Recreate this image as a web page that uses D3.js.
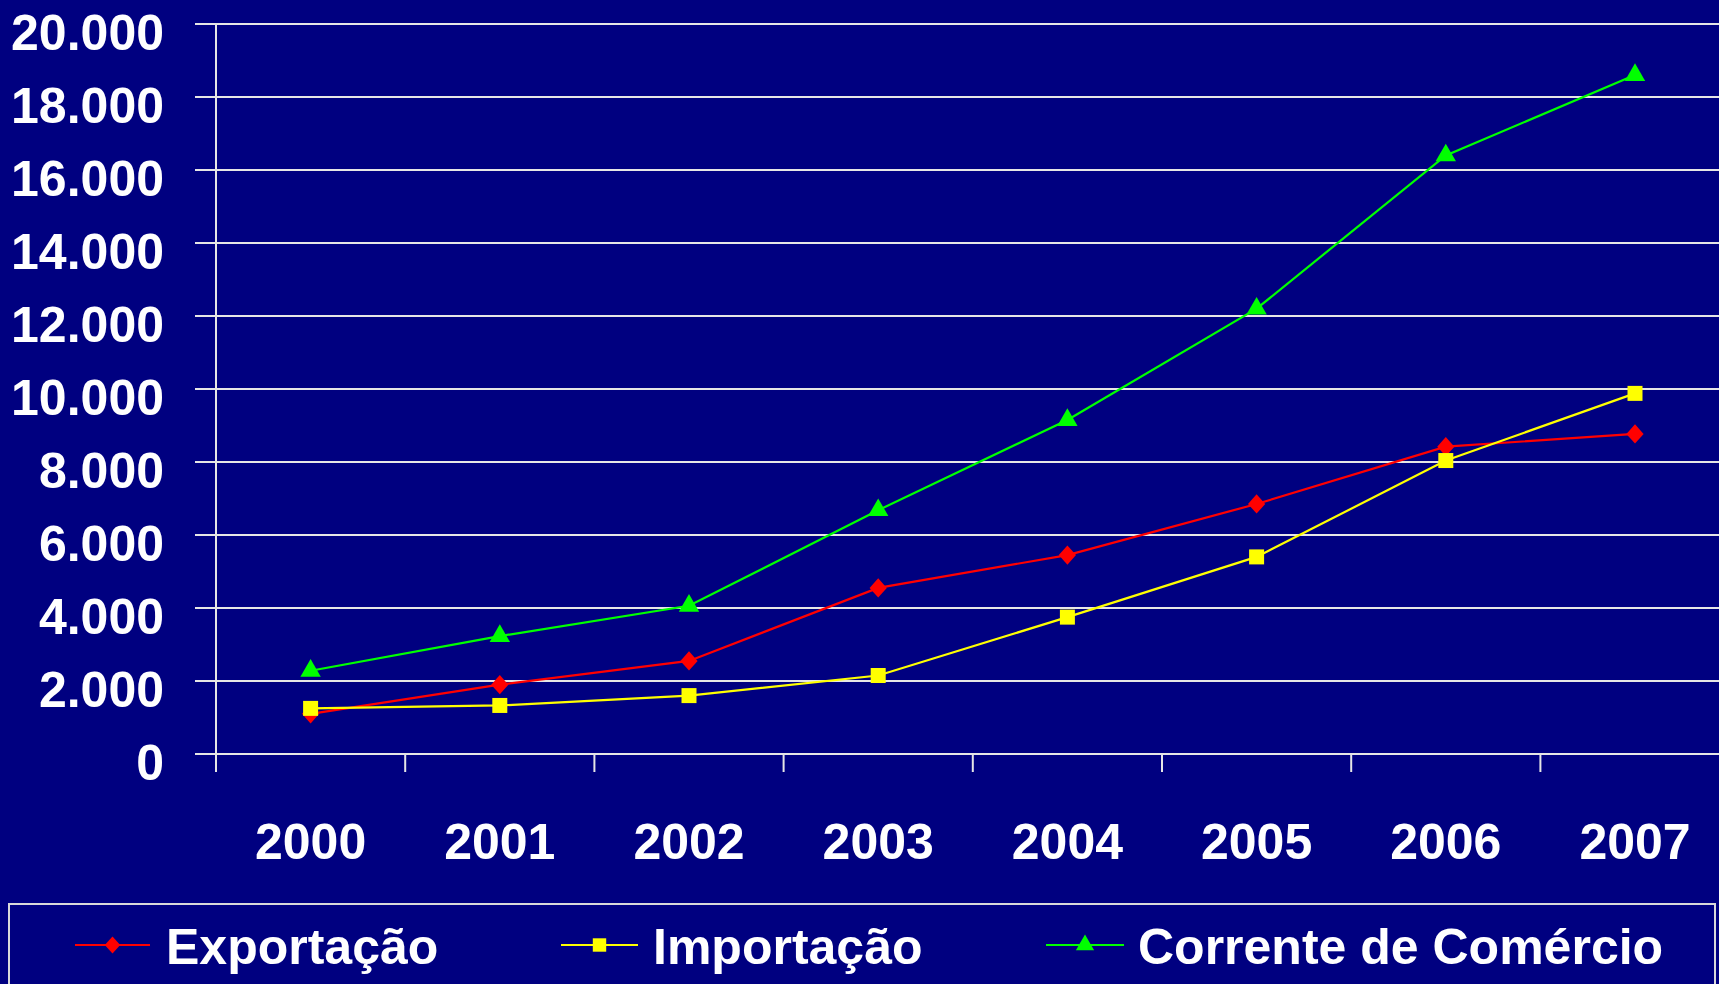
<!DOCTYPE html>
<html>
<head>
<meta charset="utf-8">
<script src="https://cdn.jsdelivr.net/npm/d3@7/dist/d3.min.js"></script>
<style>
  html, body { margin: 0; padding: 0; background: #000080; overflow: hidden; }
  svg { display: block; }
  text { font-family: "Liberation Sans", Arial, sans-serif; font-weight: bold; fill: #ffffff; }
</style>
</head>
<body>
<svg id="chart" width="1719" height="984"></svg>
<script>
const categories = ["2000", "2001", "2002", "2003", "2004", "2005", "2006", "2007"];
const exportacao = [1100, 1900, 2550, 4550, 5450, 6850, 8420, 8770];
const importacao = [1250, 1330, 1600, 2150, 3750, 5400, 8040, 9880];
const corrente   = [2280, 3230, 4060, 6680, 9150, 12200, 16400, 18600];
const yTicks = [0, 2000, 4000, 6000, 8000, 10000, 12000, 14000, 16000, 18000, 20000];
const yTickLabels = ["0", "2.000", "4.000", "6.000", "8.000", "10.000", "12.000", "14.000", "16.000", "18.000", "20.000"];
const seriesNames = ["Exportação", "Importação", "Corrente de Comércio"];
const seriesColors = ["#ff0000", "#ffff00", "#00ff00"];

const diamondShape = {
  draw(ctx, size) {
    const w = Math.sqrt(size) * 0.68, h = Math.sqrt(size) * 0.76;
    ctx.moveTo(0, -h); ctx.lineTo(w, 0); ctx.lineTo(0, h); ctx.lineTo(-w, 0); ctx.closePath();
  }
};
const seriesShapes = [diamondShape, d3.symbolSquare, d3.symbolTriangle];
const seriesSizes = [160, 225, 180];

const svg = d3.select("#chart");
const plotLeft = 216, plotTop = 24, plotBottom = 754;
const bandW = 189.2;

const x = d3.scaleBand().domain(categories).range([plotLeft, plotLeft + bandW * categories.length]).paddingInner(0).paddingOuter(0);
const y = d3.scaleLinear().domain([0, 20000]).range([plotBottom, plotTop]);

// gridlines
svg.append("g").selectAll("line").data(yTicks).join("line")
  .attr("x1", 195).attr("x2", 1730)
  .attr("y1", d => y(d)).attr("y2", d => y(d))
  .attr("stroke", "#e6e6e6").attr("stroke-width", 2);

// y axis line
svg.append("line").attr("x1", plotLeft).attr("x2", plotLeft)
  .attr("y1", plotTop).attr("y2", plotBottom + 18)
  .attr("stroke", "#e6e6e6").attr("stroke-width", 2);

// x ticks at band boundaries
svg.append("g").selectAll("line").data(categories).join("line")
  .attr("x1", d => x(d)).attr("x2", d => x(d))
  .attr("y1", plotBottom).attr("y2", plotBottom + 18)
  .attr("stroke", "#e6e6e6").attr("stroke-width", 2);

// y labels
svg.append("g").selectAll("text").data(yTicks).join("text")
  .attr("x", 164).attr("y", d => y(d) + 26)
  .attr("text-anchor", "end").attr("font-size", 50)
  .text((d, i) => yTickLabels[i]);

// x labels
svg.append("g").selectAll("text").data(categories).join("text")
  .attr("x", d => x(d) + x.bandwidth() / 2).attr("y", 859)
  .attr("text-anchor", "middle").attr("font-size", 50)
  .text(d => d);

const allSeries = [exportacao, importacao, corrente];
const line = d3.line().x((d, i) => x(categories[i]) + x.bandwidth() / 2).y(d => y(d));
const drawOrder = [2, 0, 1];
drawOrder.forEach(s => {
  svg.append("path").datum(allSeries[s])
    .attr("d", line).attr("fill", "none")
    .attr("stroke", seriesColors[s]).attr("stroke-width", 2.2);
});
drawOrder.forEach(s => {
  svg.append("g").selectAll("path").data(allSeries[s]).join("path")
    .attr("transform", (d, i) => `translate(${x(categories[i]) + x.bandwidth() / 2},${y(d)})`)
    .attr("d", d3.symbol().type(seriesShapes[s]).size(seriesSizes[s]))
    .attr("fill", seriesColors[s]);
});

// legend
svg.append("rect").attr("x", 9).attr("y", 904).attr("width", 1706).attr("height", 100)
  .attr("fill", "none").attr("stroke", "#d9d9d9").attr("stroke-width", 2);
const legendLine = [[75, 150], [561, 638], [1046, 1124]];
const legendText = [166, 653, 1138];
const ly = 945;
seriesNames.forEach((name, s) => {
  svg.append("line").attr("x1", legendLine[s][0]).attr("x2", legendLine[s][1])
    .attr("y1", ly).attr("y2", ly).attr("stroke", seriesColors[s]).attr("stroke-width", 2.2);
  svg.append("path")
    .attr("transform", `translate(${(legendLine[s][0] + legendLine[s][1]) / 2},${ly})`)
    .attr("d", d3.symbol().type(seriesShapes[s]).size(seriesSizes[s] * 0.8))
    .attr("fill", seriesColors[s]);
  svg.append("text").attr("x", legendText[s]).attr("y", ly + 19)
    .attr("font-size", 50).text(name);
});
</script>
</body>
</html>
